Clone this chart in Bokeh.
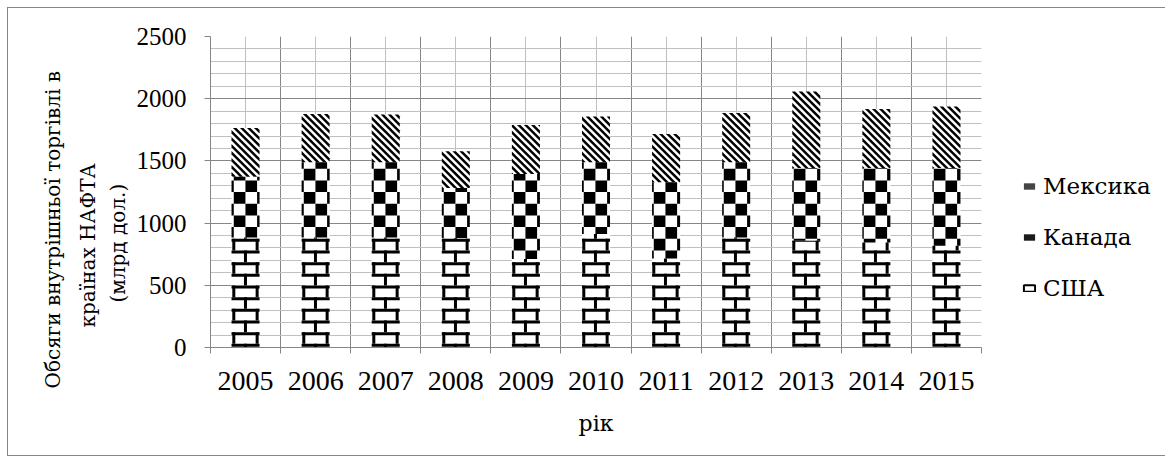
import math
from bokeh.plotting import figure
from bokeh.models import (Range1d, FixedTicker, Title, Legend, LegendItem, ColumnDataSource)
from bokeh.embed import file_html
from bokeh.resources import INLINE

# ---------------- data ----------------
years = ["2005", "2006", "2007", "2008", "2009", "2010",
         "2011", "2012", "2013", "2014", "2015"]
usa = [885, 885, 885, 880, 711, 912, 715, 885, 858, 845, 818]
canada = [488, 604, 604, 403, 684, 577, 613, 604, 585, 598, 625]
mexico = [392, 389, 383, 294, 394, 367, 389, 397, 614, 475, 494]
series_names = ["США", "Канада", "Мексика"]
y_ticks = [0, 500, 1000, 1500, 2000, 2500]
y_title_lines = ["Обсяги внутрішньої торгівлі в", "країнах НАФТА", "(млрд дол.)"]
x_title = "рік"

FONT = "Liberation Serif"      # digits
CYR_FONT = "DejaVu Serif"      # serif face with Cyrillic glyphs
MAJOR = "#868686"
MINOR = "#c0c0c0"

# ---------------- layout constants (pixels) ----------------
FRAME_W, FRAME_H = 771, 311
BORDER_L, BORDER_T, BORDER_R, BORDER_B = 202, 28, 177, 108
Y_MAX = 2500
BAR_W = 0.4
N = len(years)
SX = FRAME_W / N          # px per category unit
SY = FRAME_H / Y_MAX      # px per value unit
FB = BORDER_T + FRAME_H   # frame bottom in canvas px

pos = [i + 0.5 for i in range(N)]
src = ColumnDataSource(dict(x=pos, usa=usa, canada=canada, mexico=mexico))

def dx(px):
    return (px - BORDER_L) / SX

def dy(py):
    return (FB - py) / SY

# ---------------- pattern geometry (computed from the data) ----------------
TILE = 70.0

def clip(a0, a1, b0, b1, X0, X1, Y0, Y1):
    l, r, t, b = max(a0, X0), min(a1, X1), max(b0, Y0), min(b1, Y1)
    if r - l > 0.05 and b - t > 0.05:
        return l, r, t, b
    return None

def seg_px(x, bottom, top):
    return (BORDER_L + (x - BAR_W / 2) * SX, BORDER_L + (x + BAR_W / 2) * SX,
            FB - top * SY, FB - bottom * SY)

def checker_rects(X0, X1, Y0, Y1):
    c, ox, oy = TILE / 6, 3.6, 8.6
    out = []
    for i in range(math.floor((X0 - ox) / c), math.floor((X1 - ox) / c) + 1):
        for j in range(math.floor((Y0 - oy) / c), math.floor((Y1 - oy) / c) + 1):
            if (i + j) % 2 == 0:
                r = clip(ox + i * c, ox + (i + 1) * c, oy + j * c, oy + (j + 1) * c, X0, X1, Y0, Y1)
                if r:
                    out.append(r)
    return out

def brick_rects(X0, X1, Y0, Y1):
    rh, P, t, oy, jx0 = TILE / 6, TILE / 3, 3.0, 20.3, 15.3
    out = []
    for k in range(math.floor((Y0 - oy) / rh) - 1, math.floor((Y1 - oy) / rh) + 1):
        y0 = oy + k * rh
        r = clip(X0, X1, y0, y0 + t, X0, X1, Y0, Y1)
        if r:
            out.append(r)
        jx = jx0 + (0 if k % 2 == 0 else P / 2)
        for n in range(math.floor((X0 - jx) / P) - 1, math.ceil((X1 - jx) / P) + 2):
            xc = jx + n * P
            r = clip(xc - t / 2, xc + t / 2, y0, y0 + rh, X0, X1, Y0, Y1)
            if r:
                out.append(r)
    return out

def clip_poly_x(poly, X0, X1):
    def clip_edge(pts, inside, inter):
        res = []
        for idx in range(len(pts)):
            cur, prev = pts[idx], pts[idx - 1]
            if inside(cur):
                if not inside(prev):
                    res.append(inter(prev, cur))
                res.append(cur)
            elif inside(prev):
                res.append(inter(prev, cur))
        return res

    def ix(xv):
        def f(p, q):
            tt = (xv - p[0]) / (q[0] - p[0])
            return (xv, p[1] + tt * (q[1] - p[1]))
        return f
    pts = clip_edge(poly, lambda p: p[0] >= X0, ix(X0))
    if pts:
        pts = clip_edge(pts, lambda p: p[0] <= X1, ix(X1))
    return pts

def diag_polys(X0, X1, Y0, Y1):
    d, w = TILE / 10, TILE / 20
    out = []
    for m in range(math.floor((X0 - Y1) / d) - 1, math.ceil((X1 - Y0) / d) + 2):
        a = m * d
        poly = [(a + Y0, Y0), (a + w + Y0, Y0), (a + w + Y1, Y1), (a + Y1, Y1)]
        pts = clip_poly_x(poly, X0, X1)
        if len(pts) >= 3:
            area = 0.5 * abs(sum(pts[i][0] * pts[i - 1][1] - pts[i - 1][0] * pts[i][1]
                                 for i in range(len(pts))))
            if area > 0.2:
                out.append(pts)
    return out

quads = dict(left=[], right=[], top=[], bottom=[])
polys = dict(xs=[], ys=[])
for i, x in enumerate(pos):
    b0 = 0
    for vals, kind in ((usa, "brick"), (canada, "checker"), (mexico, "diag")):
        b1 = b0 + vals[i]
        X0, X1, Y0, Y1 = seg_px(x, b0, b1)
        if kind == "diag":
            for pts in diag_polys(X0, X1, Y0, Y1):
                polys["xs"].append([dx(p[0]) for p in pts])
                polys["ys"].append([dy(p[1]) for p in pts])
        else:
            rects = brick_rects(X0, X1, Y0, Y1) if kind == "brick" else checker_rects(X0, X1, Y0, Y1)
            for l, r, t, b in rects:
                quads["left"].append(dx(l)); quads["right"].append(dx(r))
                quads["top"].append(dy(t)); quads["bottom"].append(dy(b))
        b0 = b1

# ---------------- figure ----------------
p = figure(frame_width=FRAME_W, frame_height=FRAME_H,
           min_border_left=BORDER_L, min_border_right=BORDER_R,
           min_border_top=BORDER_T, min_border_bottom=BORDER_B,
           x_range=Range1d(0, N), y_range=Range1d(0, Y_MAX),
           output_backend="svg", toolbar_location=None,
           background_fill_color="white", border_fill_color="white")
p.styles = {"border": "1px solid #868686", "margin-left": "7px", "margin-top": "7px"}
p.outline_line_color = None

# white bar bodies (hide the grid), then the black pattern marks
p.vbar_stack(["usa", "canada", "mexico"], x="x", width=BAR_W, source=src,
             fill_color="white", line_color=None)
p.quad(source=ColumnDataSource(quads), left="left", right="right", top="top", bottom="bottom",
       fill_color="black", line_color=None)
p.patches(source=ColumnDataSource(polys), xs="xs", ys="ys", fill_color="black", line_color=None)

# hidden proxies that only draw the legend swatches
proxy_styles = [dict(fill_color="white", line_color="black", line_width=2),
                dict(fill_color="#1a1a1a", line_color=None),
                dict(fill_color="#454545", line_color=None)]
proxies = []
for col, st in zip(["usa", "canada", "mexico"], proxy_styles):
    proxies.append(p.vbar(x="x", top=col, width=BAR_W, source=src, visible=False, **st))

# axes
xa = p.xaxis[0]
xa.ticker = FixedTicker(ticks=pos, minor_ticks=list(range(0, N + 1)))
xa.major_label_overrides = {x: y for x, y in zip(pos, years)}
xa.major_tick_line_color = None
xa.major_tick_out = 0
xa.major_tick_in = 0
xa.minor_tick_line_color = MAJOR
xa.minor_tick_out = 6
xa.minor_tick_in = 0
xa.axis_line_color = MAJOR
xa.major_label_text_font = FONT
xa.major_label_text_font_size = "28px"
xa.major_label_text_color = "black"
xa.major_label_standoff = 18
xa.axis_label = x_title
xa.axis_label_text_font = CYR_FONT
xa.axis_label_text_font_size = "22px"
xa.axis_label_text_font_style = "normal"
xa.axis_label_text_color = "black"
xa.axis_label_standoff = 18

ya = p.yaxis[0]
ya.ticker = FixedTicker(ticks=y_ticks, minor_ticks=list(range(0, Y_MAX + 100, 100)))
ya.major_tick_line_color = MAJOR
ya.major_tick_out = 6
ya.major_tick_in = 0
ya.minor_tick_line_color = None
ya.axis_line_color = MAJOR
ya.major_label_text_font = FONT
ya.major_label_text_font_size = "25px"
ya.major_label_text_color = "black"
ya.major_label_standoff = 18

# grids
p.ygrid.grid_line_color = MAJOR
p.ygrid.minor_grid_line_color = MINOR
p.xgrid.grid_line_color = MINOR
p.xgrid.minor_grid_line_color = MAJOR

# y title (three lines, rotated) as titles in the left panel, innermost first
for txt, off, so in zip(reversed(y_title_lines), [45, 20, -41], [8, 0, 17]):
    p.add_layout(Title(text=txt, align="left", offset=off, standoff=so,
                       text_font=CYR_FONT, text_font_size="20px", text_font_style="normal",
                       text_color="black"), "left")

# legend
items = [LegendItem(label=series_names[i], renderers=[proxies[i]]) for i in [2, 1, 0]]
legend = Legend(items=items, location=(41, 44), orientation="vertical",
                glyph_width=14, glyph_height=8, label_standoff=7,
                padding=0, margin=0, spacing=20, label_height=31,
                border_line_color=None, background_fill_alpha=0,
                label_text_font=CYR_FONT, label_text_font_size="23px",
                label_text_color="black")
p.add_layout(legend, "right")

open("out.html", "w").write(file_html(p, INLINE))
